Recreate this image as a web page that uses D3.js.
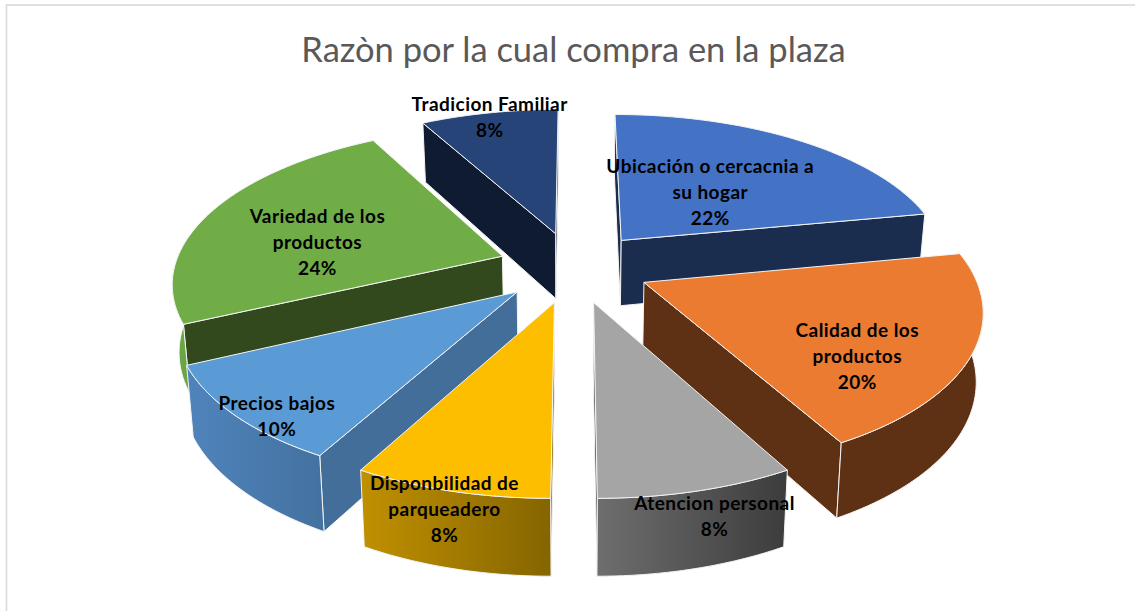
<!DOCTYPE html>
<html>
<head>
<meta charset="utf-8">
<script src="https://cdn.jsdelivr.net/npm/d3@7"></script>
<style>
html,body{margin:0;padding:0;background:#fff;overflow:hidden}
svg{display:block}
</style>
</head>
<body>
<svg id="chart" width="1135" height="611"></svg>
<script>
// Data
const chartTitle = "Razòn por la cual compra en la plaza";
const categories = ["Ubicación o cercacnia a su hogar","Calidad de los productos","Atencion personal","Disponbilidad de parqueadero","Precios bajos","Variedad de los productos","Tradicion Familiar"];
const values = [22,20,8,8,10,24,8];
const labelLines = [["Ubicación o cercacnia a","su hogar"],["Calidad de los","productos"],["Atencion personal"],["Disponbilidad de","parqueadero"],["Precios bajos"],["Variedad de los","productos"],["Tradicion Familiar"]];
// Styles
const topColors = ["#4472C4","#EB7B31","#A5A5A5","#FDBE00","#5B9BD5","#70AD47","#264478"];
const edgeColors = ["#1B2D4F","#5F3114","#404040","#7F6000","#426E99","#31491C","#0F1B30"];
const arcLeft = ["#1B2D4F","#5F3114","#6E6E6E","#C09000","#4F84BC","#6CA644","#0F1B30"];
const arcRight = ["#1B2D4F","#5F3114","#3C3C3C","#856500","#44719F","#6CA644","#0F1B30"];
const labelNudge = [[-22,15],[22,32],[63,109],[-52,102],[-79,54],[-7,13],[-24,-40]];
const drawOrder = [6,0,5,1,4,2,3];

// Projection parameters of the tilted disc
const cx = 574, cy = 267, sx = 328, sy = 153, persp = 0.155, explode = 0.232;
const depth = 66.7, depthPersp = 0.1176, shrink = 0.983;

const x = d3.scaleLinear().domain([-1,1]).range([cx-sx,cx+sx]);
const y = d3.scaleLinear().domain([-1,1]).range([cy+sy,cy-sy]);

const svg = d3.select("#chart");
const defs = svg.append("defs");
const line = d3.line().x(d=>d[0]).y(d=>d[1]);

const pie = d3.pie().sort(null).startAngle(0).endAngle(2*Math.PI);
const arcs = pie(values);

function top3(a, r, mid){
  const u = explode*Math.sin(mid)+r*Math.sin(a);
  const v = explode*Math.cos(mid)+r*Math.cos(a);
  const p = 1/(1+persp*v);
  return {pt:[x(u*p),y(v*p)],v};
}
function topPt(a,r,mid){return top3(a,r,mid).pt;}
function botPt(a,r,mid){
  const t = top3(a,r,mid);
  return [cx+(t.pt[0]-cx)*shrink, t.pt[1]+depth/(1+depthPersp*t.v)];
}

// Frame
svg.append("rect").attr("x",6.5).attr("y",5).attr("width",1300).attr("height",900)
  .attr("fill","#fff").attr("stroke","#d9d9d9").attr("stroke-width",1.6);

// Title
svg.append("text").attr("x",573.5).attr("y",62).attr("text-anchor","middle")
  .attr("font-family","Lato, 'Open Sans', sans-serif").attr("font-weight",400)
  .attr("font-size",34.5).attr("fill","#595959").text(chartTitle);

arcs.forEach((d,i)=>{
  const g = defs.append("linearGradient").attr("id","arcGrad"+i)
    .attr("x1","0").attr("x2","1").attr("y1","0").attr("y2","0");
  g.append("stop").attr("offset","0").attr("stop-color",arcLeft[i]);
  g.append("stop").attr("offset","1").attr("stop-color",arcRight[i]);
});

drawOrder.forEach(i=>{
  const d = arcs[i];
  const mid = (d.startAngle+d.endAngle)/2;
  const g = svg.append("g");
  const angles = d3.range(0,61).map(k=>d.startAngle+(d.endAngle-d.startAngle)*k/60);
  const faceStyle = sel=>sel.attr("stroke","#f4f4f4").attr("stroke-width",1).attr("stroke-linejoin","round");
  // radial side walls that face the viewer
  if (Math.sin(d.startAngle) < 0.01) {
    const a = d.startAngle;
    g.append("path").attr("d",line([topPt(a,0,mid),topPt(a,1,mid),botPt(a,1,mid),botPt(a,0,mid)])+"Z")
      .attr("fill",edgeColors[i]).call(faceStyle);
  }
  if (Math.sin(d.endAngle) > -0.01) {
    const a = d.endAngle;
    g.append("path").attr("d",line([topPt(a,0,mid),topPt(a,1,mid),botPt(a,1,mid),botPt(a,0,mid)])+"Z")
      .attr("fill",edgeColors[i]).call(faceStyle);
  }
  // outer wall: only the part turned to the viewer
  const front = angles.filter(a=>Math.cos(a) < 0.15);
  if (front.length > 1) {
    const outer = front.map(a=>topPt(a,1,mid)).concat(front.slice().reverse().map(a=>botPt(a,1,mid)));
    g.append("path").attr("d",line(outer)+"Z").attr("fill",`url(#arcGrad${i})`).call(faceStyle);
  }
  // top face
  const face = [topPt(0,0,mid)].concat(angles.map(a=>topPt(a,1,mid)));
  g.append("path").attr("d",line(face)+"Z").attr("fill",topColors[i]).call(faceStyle);
});

// Labels above every slice
arcs.forEach((d,i)=>{
  const mid = (d.startAngle+d.endAngle)/2;
  const a = topPt(mid,0.6,mid);
  const lines = labelLines[i].concat([values[i]+"%"]);
  const lx = a[0]+labelNudge[i][0], ly = a[1]+labelNudge[i][1];
  const t = svg.append("text").attr("text-anchor","middle")
    .attr("font-family","Lato, 'Open Sans', sans-serif").attr("font-weight",700)
    .attr("font-size",19).attr("letter-spacing",0.45).attr("fill","#000");
  lines.forEach((s,k)=>{
    t.append("tspan").attr("x",lx).attr("y",ly+(k-(lines.length-1)/2)*26+6.5).text(s);
  });
});
</script>
</body>
</html>
